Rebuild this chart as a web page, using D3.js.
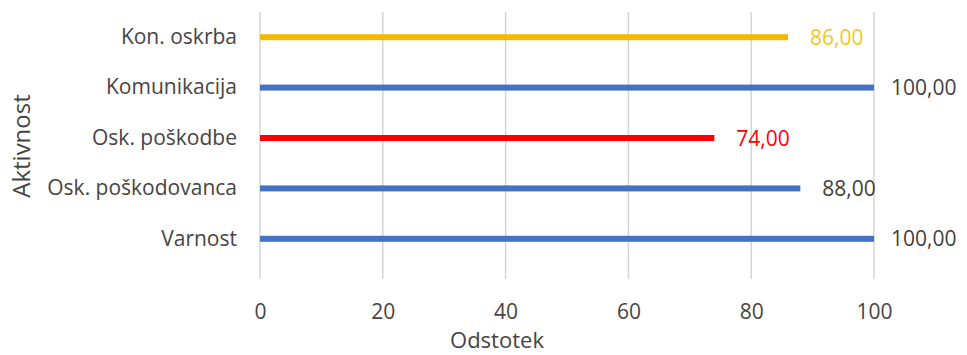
<!DOCTYPE html>
<html>
<head>
<meta charset="utf-8">
<script src="https://cdn.jsdelivr.net/npm/d3@7"></script>
<style>
  html, body { margin: 0; padding: 0; background: #ffffff; }
  svg { display: block; font-family: "Open Sans", Lato, sans-serif; }
</style>
</head>
<body>
<svg id="chart" width="967" height="355"></svg>
<script>
// Activities, top to bottom
const categories = ["Kon. oskrba", "Komunikacija", "Osk. poškodbe", "Osk. poškodovanca", "Varnost"];
// Percentage reached per activity
const values = [86, 100, 74, 88, 100];
// Bar colour per activity
const barColors = ["#F5B800", "#4472C4", "#FF0000", "#4472C4", "#4472C4"];
// Value label colour per activity
const labelColors = ["#F0C818", "#424040", "#FF0000", "#424040", "#424040"];
const xTicks = [0, 20, 40, 60, 80, 100];
const xTitle = "Odstotek";
const yTitle = "Aktivnost";

const svg = d3.select("#chart");
const plot = { left: 260, right: 874, top: 12, bottom: 279 };
const textColor = "#474444";

const x = d3.scaleLinear().domain([0, 100]).range([plot.left, plot.right]);
const y = d3.scaleBand().domain(categories).range([plot.top, 264]);

// vertical gridlines
svg.append("g")
  .selectAll("line")
  .data(xTicks)
  .join("line")
  .attr("x1", d => x(d)).attr("x2", d => x(d))
  .attr("y1", plot.top).attr("y2", plot.bottom)
  .attr("stroke", "#d4d2d2")
  .attr("stroke-width", 1.4);

// x axis tick labels
const xAxis = d3.axisBottom(x).tickValues(xTicks).tickSize(0).tickPadding(0).tickFormat(d3.format("d"));
const gx = svg.append("g").attr("transform", `translate(0,${304})`).call(xAxis);
gx.select(".domain").remove();
gx.selectAll("text").attr("font-size", 21).attr("fill", textColor).attr("font-family", "'Open Sans', sans-serif");

// y axis category labels
const yAxis = d3.axisLeft(y).tickSize(0).tickPadding(23);
const gy = svg.append("g").attr("transform", `translate(${plot.left},0)`).call(yAxis);
gy.select(".domain").remove();
gy.selectAll("text").attr("font-size", 21).attr("fill", textColor).attr("font-family", "'Open Sans', sans-serif");

// bars drawn as thick strokes
const rows = categories.map((c, i) => ({ c, v: values[i], color: barColors[i], lc: labelColors[i] }));
const cy = d => y(d.c) + y.bandwidth() / 2;

svg.append("g")
  .selectAll("rect")
  .data(rows)
  .join("rect")
  .attr("x", x(0))
  .attr("y", d => cy(d) - 3)
  .attr("width", d => x(d.v) - x(0))
  .attr("height", 6)
  .attr("fill", d => d.color);

// value labels
svg.append("g")
  .selectAll("text")
  .data(rows)
  .join("text")
  .attr("x", d => x(d.v) + (d.v === 100 ? 17 : 22))
  .attr("y", d => cy(d))
  .attr("dy", "0.36em")
  .attr("font-size", 21)
  .attr("fill", d => d.lc)
  .text(d => d3.format(".2f")(d.v).replace(".", ","));

// axis titles
svg.append("text")
  .attr("x", 497)
  .attr("y", 348)
  .attr("text-anchor", "middle")
  .attr("font-size", 22)
  .attr("fill", textColor)
  .text(xTitle);

svg.append("text")
  .attr("transform", `translate(30,${146}) rotate(-90)`)
  .attr("text-anchor", "middle")
  .attr("font-size", 24)
  .attr("fill", textColor)
  .text(yTitle);
</script>
</body>
</html>
